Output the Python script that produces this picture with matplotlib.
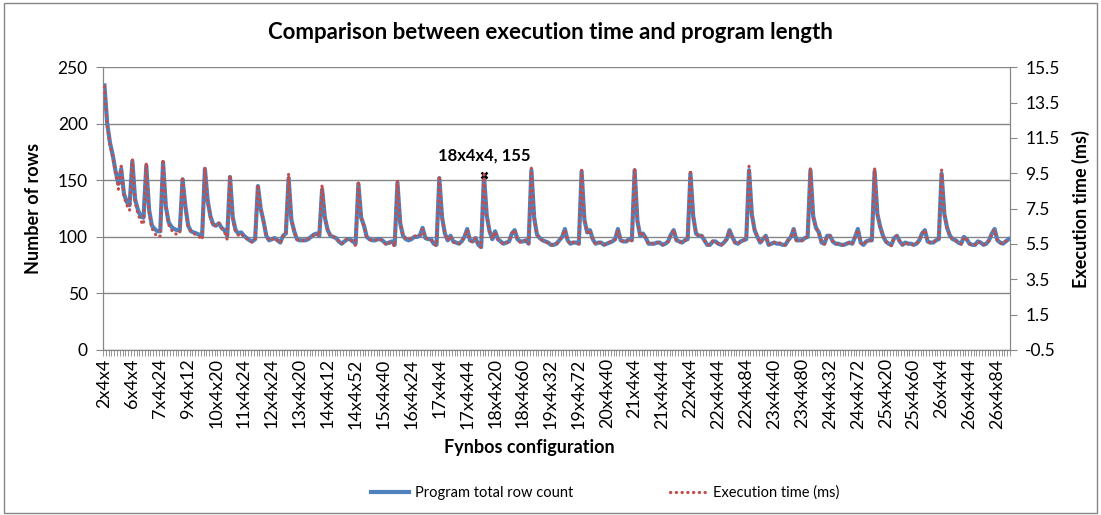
import matplotlib
matplotlib.use("Agg")
from matplotlib import pyplot as plt
from matplotlib.lines import Line2D
from matplotlib.patches import Rectangle
from matplotlib.ticker import FixedLocator, NullFormatter

# Fynbos configurations: N x 4 x M, M = 4 .. 4*(N-1)
n_values = list(range(2, 27))
categories = [f"{n}x4x{m}" for n in n_values for m in range(4, 4 * n, 4)]

# Program total row count, one line per N
row_count = [
    234,
    200, 183,
    172, 158, 147,
    160, 138, 131, 128,
    167, 133, 124, 118, 117,
    163, 124, 110, 107, 105, 105,
    166, 127, 113, 109, 107, 106, 106,
    151, 127, 110, 105, 104, 103, 102, 101,
    160, 132, 118, 111, 110, 112, 108, 106, 101,
    153, 117, 106, 103, 104, 101, 99, 97, 96, 98,
    145, 125, 114, 101, 97, 98, 99, 97, 95, 101, 103,
    152, 115, 105, 98, 97, 97, 97, 98, 100, 102, 103, 101,
    142, 117, 106, 101, 100, 99, 96, 94, 96, 98, 98, 96, 94,
    147, 117, 110, 100, 98, 97, 97, 98, 98, 96, 94, 95, 96, 93,
    148, 112, 101, 98, 97, 98, 100, 100, 101, 108, 99, 98, 98, 94, 93,
    152, 117, 103, 97, 101, 96, 95, 94, 96, 100, 107, 97, 96, 99, 93, 91,
    155, 119, 105, 98, 105, 98, 96, 94, 95, 96, 103, 106, 98, 96, 96, 97, 94,
    159, 117, 102, 99, 97, 96, 95, 93, 93, 94, 97, 100, 107, 97, 94, 95, 95, 94,
    158, 115, 104, 106, 98, 94, 95, 95, 93, 94, 95, 96, 98, 107, 97, 96, 96, 98, 97,
    159, 114, 101, 103, 99, 94, 94, 94, 95, 95, 93, 94, 96, 102, 106, 97, 96, 95, 97, 98,
    156, 118, 103, 101, 101, 97, 93, 93, 96, 96, 94, 93, 95, 98, 106, 100, 95, 94, 96, 97, 98,
    159, 120, 106, 100, 95, 98, 101, 93, 94, 95, 94, 94, 93, 93, 97, 100, 107, 97, 97, 97, 99, 100,
    159, 118, 108, 104, 95, 94, 101, 101, 96, 94, 94, 93, 93, 94, 95, 94, 100, 107, 95, 93, 96, 97, 97,
    158, 120, 109, 101, 96, 94, 93, 99, 101, 96, 93, 95, 94, 94, 93, 94, 97, 103, 106, 96, 95, 95, 97, 98,
    156, 120, 108, 101, 98, 97, 95, 94, 100, 98, 94, 93, 93, 96, 95, 93, 94, 97, 103, 107, 97, 95, 94, 96, 98,
]

# Execution time (ms), one line per N
exec_ms = [
    14.4,
    12.2, 11.1,
    10.4, 9.5, 8.6,
    9.9, 8.2, 7.7, 7.4,
    10.3, 7.9, 7.2, 6.8, 6.6,
    10.1, 7.3, 6.4, 6.1, 5.9, 5.95,
    10.3, 7.6, 6.6, 6.3, 6.1, 6.05, 6.1,
    9.3, 7.6, 6.5, 6.2, 6.1, 6.0, 5.9, 5.75,
    9.85, 7.9, 7.0, 6.5, 6.55, 6.7, 6.4, 6.2, 5.75,
    9.4, 6.9, 6.2, 6.0, 6.1, 5.9, 5.8, 5.65, 5.6, 5.75,
    8.85, 7.5, 6.8, 6.0, 5.7, 5.75, 5.85, 5.7, 5.55, 5.95, 6.05,
    9.5, 6.9, 6.2, 5.75, 5.7, 5.7, 5.7, 5.8, 5.9, 6.0, 6.1, 5.95,
    8.85, 7.0, 6.3, 5.95, 5.9, 5.85, 5.65, 5.5, 5.65, 5.8, 5.75, 5.6, 5.4,
    9.05, 7.0, 6.5, 5.9, 5.75, 5.7, 5.7, 5.8, 5.75, 5.6, 5.45, 5.55, 5.6, 5.35,
    9.1, 6.7, 6.0, 5.8, 5.75, 5.85, 5.95, 5.95, 5.95, 6.35, 5.85, 5.8, 5.75, 5.5, 5.4,
    9.35, 7.0, 6.1, 5.7, 5.95, 5.6, 5.55, 5.5, 5.65, 5.9, 6.3, 5.7, 5.6, 5.85, 5.45, 5.3,
    9.45, 7.1, 6.2, 5.8, 6.2, 5.75, 5.6, 5.5, 5.55, 5.65, 6.1, 6.3, 5.75, 5.6, 5.65, 5.7, 5.5,
    9.8, 7.0, 6.05, 5.8, 5.7, 5.65, 5.55, 5.45, 5.45, 5.5, 5.7, 5.9, 6.3, 5.7, 5.5, 5.6, 5.55, 5.5,
    9.7, 6.9, 6.15, 6.3, 5.75, 5.5, 5.6, 5.55, 5.45, 5.5, 5.6, 5.65, 5.75, 6.3, 5.7, 5.65, 5.6, 5.8, 5.7,
    9.8, 6.8, 5.95, 6.1, 5.85, 5.5, 5.5, 5.55, 5.6, 5.55, 5.45, 5.5, 5.65, 6.0, 6.3, 5.7, 5.65, 5.55, 5.7, 5.8,
    9.7, 7.1, 6.1, 5.95, 6.0, 5.7, 5.45, 5.45, 5.65, 5.65, 5.5, 5.4, 5.6, 5.75, 6.25, 5.9, 5.55, 5.5, 5.65, 5.7, 5.8,
    9.9, 7.2, 6.3, 5.9, 5.55, 5.8, 5.95, 5.45, 5.5, 5.6, 5.5, 5.55, 5.45, 5.45, 5.7, 5.9, 6.3, 5.7, 5.75, 5.7, 5.85, 5.9,
    9.8, 7.05, 6.4, 6.15, 5.55, 5.5, 5.95, 5.95, 5.65, 5.5, 5.5, 5.45, 5.45, 5.5, 5.6, 5.5, 5.9, 6.3, 5.55, 5.45, 5.65, 5.7, 5.7,
    9.8, 7.2, 6.45, 5.95, 5.65, 5.5, 5.4, 5.85, 5.95, 5.65, 5.45, 5.6, 5.5, 5.5, 5.45, 5.5, 5.7, 6.1, 6.3, 5.65, 5.55, 5.6, 5.7, 5.75,
    9.7, 7.2, 6.4, 5.95, 5.75, 5.7, 5.6, 5.5, 5.9, 5.75, 5.5, 5.45, 5.45, 5.65, 5.55, 5.45, 5.5, 5.7, 6.1, 6.3, 5.7, 5.55, 5.5, 5.65, 5.75,
]

highlight = "18x4x4"
label_every = 10
left_ticks = [0, 50, 100, 150, 200, 250]
right_ticks = [-0.5, 1.5, 3.5, 5.5, 7.5, 9.5, 11.5, 13.5, 15.5]

assert len(row_count) == len(categories) == len(exec_ms)

BLUE = "#4F81BD"
RED = "#C0504D"
GRID = "#868686"
DOTS = (0, (0.1, 1.7))
plt.rcParams["font.family"] = ["Lato", "DejaVu Sans"]

fig = plt.figure(figsize=(11.01, 5.15), dpi=100)
ax1 = fig.add_axes([0.0936, 0.3204, 0.8237, 0.5489])
ax2 = ax1.twinx()

x = list(range(len(categories)))
ax1.plot(x, row_count, color=BLUE, lw=3.0, solid_joinstyle="round", zorder=3)
ax2.plot(x, exec_ms, color=RED, lw=2.3, linestyle=DOTS,
         dash_capstyle="round", zorder=4)

# highlighted point
hi = categories.index(highlight)
ax1.plot([hi], [row_count[hi]], marker="x", color="black", ms=5, mew=1.8, zorder=5)
ax1.annotate(f"{highlight}, {row_count[hi]}", (hi, row_count[hi]), xytext=(0, 8),
             textcoords="offset points", ha="center", va="bottom",
             fontsize=12, fontweight="bold")

ax1.set_xlim(-0.5, len(categories) - 0.5)
ax1.set_ylim(0, 250)
ax2.set_ylim(-0.5, 15.5)
ax1.set_yticks(left_ticks)
ax2.set_yticks(right_ticks)
ax2.set_yticklabels([f"{t:g}" for t in right_ticks])
ax1.yaxis.grid(True, color=GRID, lw=1)
ax1.set_axisbelow(True)

lab_pos = x[::label_every]
ax1.set_xticks(lab_pos)
ax1.set_xticklabels(categories[::label_every], rotation=90, fontsize=13)
ax1.xaxis.set_minor_locator(FixedLocator([i - 0.5 for i in range(len(categories) + 1)]))
ax1.xaxis.set_minor_formatter(NullFormatter())
ax1.tick_params(axis="x", which="major", length=0, pad=6)
ax1.tick_params(axis="x", which="minor", length=4, color=GRID)
ax1.tick_params(axis="y", length=5, color=GRID, labelsize=12.5, pad=6)
ax2.tick_params(axis="y", length=5, color=GRID, labelsize=12.5, pad=6)

for ax in (ax1, ax2):
    ax.spines["top"].set_visible(False)
    for s in ("left", "right", "bottom"):
        ax.spines[s].set_color(GRID)

ax1.set_ylabel("Number of rows", fontsize=13, fontweight="bold")
ax2.set_ylabel("Execution time (ms)", fontsize=13, fontweight="bold")
ax1.set_xlabel("Fynbos configuration", fontsize=13, fontweight="bold")
ax1.yaxis.set_label_coords(-0.067, 0.5)
ax2.yaxis.set_label_coords(1.068, 0.5)
ax1.xaxis.set_label_coords(0.47, -0.315)
fig.suptitle("Comparison between execution time and program length",
             fontsize=16, fontweight="bold", y=0.958)

handles = [Line2D([], [], color=BLUE, lw=3.0),
           Line2D([], [], color=RED, lw=2.3, linestyle=DOTS, dash_capstyle="round")]
fig.legend(handles, ["Program total row count", "Execution time (ms)"],
           loc="center", bbox_to_anchor=(0.55, 0.043), ncol=2, frameon=False,
           fontsize=10.5, handlelength=2.6, handletextpad=0.4, columnspacing=6.6)

fig.patches.append(Rectangle((0.004, 0.004), 0.992, 0.99, transform=fig.transFigure,
                             fill=False, edgecolor=GRID, lw=1))

fig.savefig("out.png", dpi=100)
